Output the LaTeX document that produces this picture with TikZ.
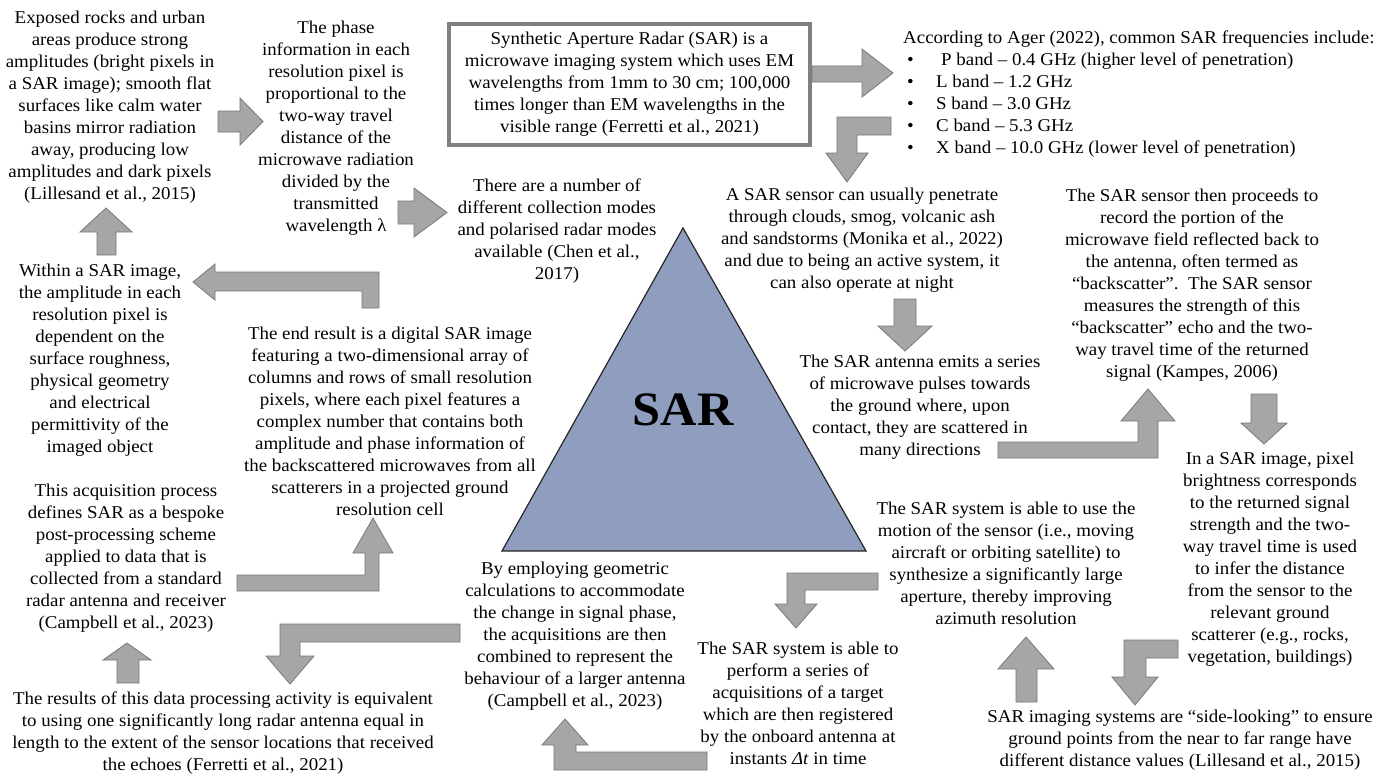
\documentclass[tikz,border=0pt]{standalone}
\usepackage{fontspec}
\setmainfont[FakeStretch=1.05]{Liberation Serif}
\definecolor{arrowfill}{HTML}{A6A6A6}
\definecolor{arrowedge}{HTML}{787878}
\definecolor{boxedge}{HTML}{808080}
\definecolor{sarblue}{HTML}{8F9DBF}
\tikzset{
  note/.style={align=center, inner sep=0pt, font=\fontsize{18}{22}\selectfont},
  listnote/.style={align=left, inner sep=0pt, anchor=west, font=\fontsize{18}{22}\selectfont},
  introbox/.style={draw=boxedge, line width=4pt, minimum width=361pt, minimum height=121pt, align=center, inner sep=0pt, font=\fontsize{18}{22}\selectfont},
  blockarrow/.style={fill=arrowfill, draw=arrowedge, line width=0.8pt},
  sartri/.style={fill=sarblue, draw=black!85, line width=1.2pt},
  sarlabel/.style={font=\fontsize{48}{54}\selectfont\bfseries, inner sep=0pt}
}
\newcommand{\bul}{\hspace*{4pt}\makebox[29pt][l]{•}}

\begin{document}
\begin{tikzpicture}[x=1pt, y=-1pt]
  \useasboundingbox (0,0) rectangle (1386,776);

  \draw[sartri] (683,228) -- (866,551) -- (502,551) -- cycle;
  \node[sarlabel] (sar) at (683,410) {SAR};

  \node[introbox] (intro) at (629.5,84.5) {Synthetic Aperture Radar (SAR) is a\\ microwave imaging system which uses EM\\ wavelengths from 1mm to 30 cm; 100,000\\ times longer than EM wavelengths in the\\ visible range (Ferretti et al., 2021)};
  \node[listnote] (freq) at (903,94) {According to Ager (2022), common SAR frequencies include:\\ \bul\hspace*{5pt}P band – 0.4 GHz (higher level of penetration)\\ \bul L band – 1.2 GHz\\ \bul S band – 3.0 GHz\\ \bul C band – 5.3 GHz\\ \bul X band – 10.0 GHz (lower level of penetration)};
  \node[note] (exposed) at (110,107) {Exposed rocks and urban\\ areas produce strong\\ amplitudes (bright pixels in\\ a SAR image); smooth flat\\ surfaces like calm water\\ basins mirror radiation\\ away, producing low\\ amplitudes and dark pixels\\ (Lillesand et al., 2015)};
  \node[note] (phase) at (336,128) {The phase\\ information in each\\ resolution pixel is\\ proportional to the\\ two-way travel\\ distance of the\\ microwave radiation\\ divided by the\\ transmitted\\ wavelength λ};
  \node[note] (modes) at (557,231) {There are a number of\\ different collection modes\\ and polarised radar modes\\ available (Chen et al.,\\ 2017)};
  \node[note] (penetrate) at (862,240) {A SAR sensor can usually penetrate\\ through clouds, smog, volcanic ash\\ and sandstorms (Monika et al., 2022)\\ and due to being an active system, it\\ can also operate at night};
  \node[note] (backscatter) at (1192,285) {The SAR sensor then proceeds to\\ record the portion of the\\ microwave field reflected back to\\ the antenna, often termed as\\ “backscatter”.\ \ The SAR sensor\\ measures the strength of this\\ “backscatter” echo and the two-\\ way travel time of the returned\\ signal (Kampes, 2006)};
  \node[note] (antenna) at (920,407) {The SAR antenna emits a series\\ of microwave pulses towards\\ the ground where, upon\\ contact, they are scattered in\\ many directions};
  \node[note] (pixel) at (1270,559) {In a SAR image, pixel\\ brightness corresponds\\ to the returned signal\\ strength and the two-\\ way travel time is used\\ to infer the distance\\ from the sensor to the\\ relevant ground\\ scatterer (e.g., rocks,\\ vegetation, buildings)};
  \node[note] (sidelook) at (1180,740) {SAR imaging systems are “side-looking” to ensure\\ ground points from the near to far range have\\ different distance values (Lillesand et al., 2015)};
  \node[note] (motion) at (1006,563) {The SAR system is able to use the\\ motion of the sensor (i.e., moving\\ aircraft or orbiting satellite) to\\ synthesize a significantly large\\ aperture, thereby improving\\ azimuth resolution};
  \node[note] (series) at (798,703) {The SAR system is able to\\ perform a series of\\ acquisitions of a target\\ which are then registered\\ by the onboard antenna at\\ instants \textit{Δt} in time};
  \node[note] (employ) at (575,636) {By employing geometric\\ calculations to accommodate\\ the change in signal phase,\\ the acquisitions are then\\ combined to represent the\\ behaviour of a larger antenna\\ (Campbell et al., 2023)};
  \node[note] (results) at (223,733) {The results of this data processing activity is equivalent\\ to using one significantly long radar antenna equal in\\ length to the extent of the sensor locations that received\\ the echoes (Ferretti et al., 2021)};
  \node[note] (acquisition) at (126,558) {This acquisition process\\ defines SAR as a bespoke\\ post-processing scheme\\ applied to data that is\\ collected from a standard\\ radar antenna and receiver\\ (Campbell et al., 2023)};
  \node[note] (within) at (100,360) {Within a SAR image,\\ the amplitude in each\\ resolution pixel is\\ dependent on the\\ surface roughness,\\ physical geometry\\ and electrical\\ permittivity of the\\ imaged object};
  \node[note] (endresult) at (390,421) {The end result is a digital SAR image\\ featuring a two-dimensional array of\\ columns and rows of small resolution\\ pixels, where each pixel features a\\ complex number that contains both\\ amplitude and phase information of\\ the backscattered microwaves from all\\ scatterers in a projected ground\\ resolution cell};

  % block arrows
  \draw[blockarrow] (218,111) -- (240,111) -- (240,98) -- (263,121.5) -- (240,145) -- (240,132) -- (218,132) -- cycle;
  \draw[blockarrow] (398,201) -- (414,201) -- (414,188) -- (447,212.5) -- (414,237) -- (414,224) -- (398,224) -- cycle;
  \draw[blockarrow] (812,66) -- (862,66) -- (862,49) -- (893,73) -- (862,97) -- (862,82) -- (812,82) -- cycle;
  \draw[blockarrow] (891,117) -- (837,117) -- (837,153) -- (826,153) -- (847,182) -- (868,153) -- (857,153) -- (857,135) -- (891,135) -- cycle;
  \draw[blockarrow] (894,299) -- (916,299) -- (916,326) -- (932,326) -- (905,351) -- (878,326) -- (894,326) -- cycle;
  \draw[blockarrow] (998,442) -- (1138,442) -- (1138,421) -- (1121,421) -- (1148,389) -- (1175,421) -- (1158,421) -- (1158,458) -- (998,458) -- cycle;
  \draw[blockarrow] (1251,394) -- (1277,394) -- (1277,423) -- (1287,423) -- (1264,444) -- (1241,423) -- (1251,423) -- cycle;
  \draw[blockarrow] (1178,640) -- (1124,640) -- (1124,677) -- (1112,677) -- (1135,705) -- (1158,677) -- (1146,677) -- (1146,658) -- (1178,658) -- cycle;
  \draw[blockarrow] (1016,702) -- (1016,669) -- (998,669) -- (1026,637) -- (1054,669) -- (1037,669) -- (1037,702) -- cycle;
  \draw[blockarrow] (878,573) -- (787,573) -- (787,604) -- (775,604) -- (796,628) -- (817,604) -- (805,604) -- (805,590) -- (878,590) -- cycle;
  \draw[blockarrow] (707,752) -- (576,752) -- (576,745) -- (588,745) -- (565,719) -- (542,745) -- (554,745) -- (554,770) -- (707,770) -- cycle;
  \draw[blockarrow] (460,624) -- (280,624) -- (280,656) -- (266,656) -- (290,684) -- (314,656) -- (300,656) -- (300,642) -- (460,642) -- cycle;
  \draw[blockarrow] (117,683) -- (117,660) -- (103,660) -- (127,643) -- (151,660) -- (139,660) -- (139,683) -- cycle;
  \draw[blockarrow] (237,575) -- (365,575) -- (365,553) -- (353,553) -- (373,518) -- (393,553) -- (379,553) -- (379,591) -- (237,591) -- cycle;
  \draw[blockarrow] (379,308) -- (379,272) -- (215,272) -- (215,264) -- (193,282) -- (215,300) -- (215,291) -- (362,291) -- (362,308) -- cycle;
  \draw[blockarrow] (97,255) -- (97,232) -- (80,232) -- (106,208) -- (132,232) -- (116,232) -- (116,255) -- cycle;
\end{tikzpicture}
\end{document}
